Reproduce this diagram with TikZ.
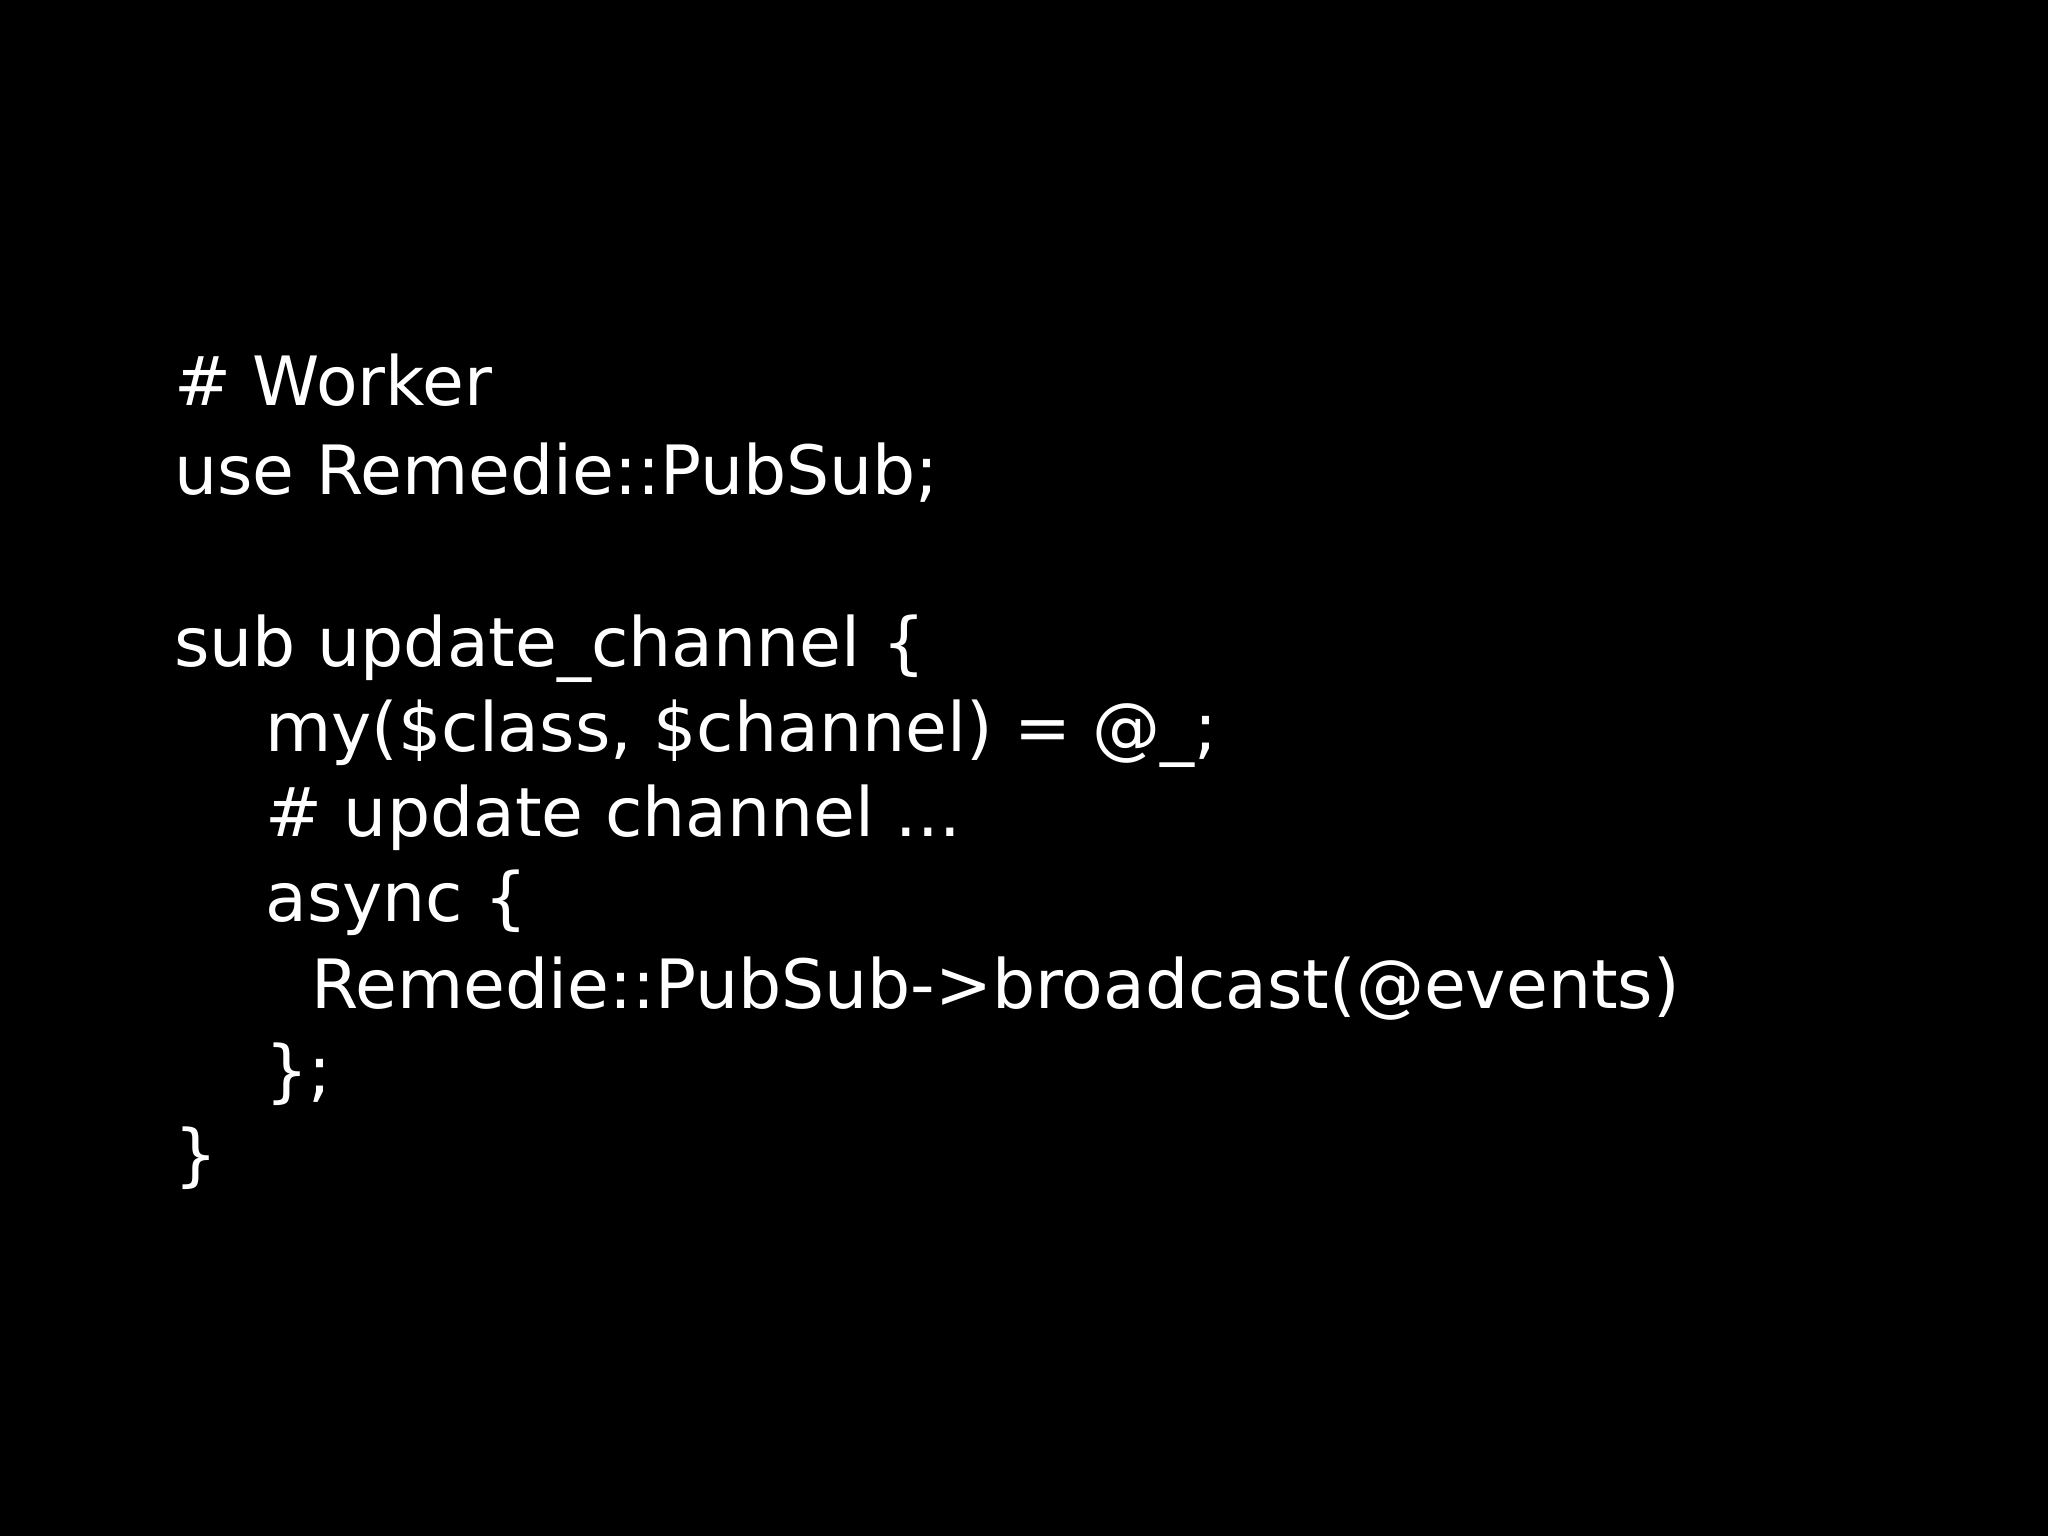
\documentclass[tikz,border=0pt]{standalone}
\usepackage{fontspec}
\setmainfont{DejaVu Sans}
\begin{document}
\begin{tikzpicture}[x=0.5pt,y=-0.5pt,code/.style={anchor=base west,inner sep=0pt,text=white,font=\fontsize{34}{40}\selectfont}]
\fill[black] (0,0) rectangle (2048,1536);
\useasboundingbox (0,0) rectangle (2048,1536);
\node[code] (l1) at (174,405) {\# Worker};
\node[code] (l2) at (174,494) {use Remedie::PubSub;};
\node[code] (l3) at (174,666) {sub update\_channel \{};
\node[code] (l4) at (265,751) {my(\$class, \$channel) = @\_;};
\node[code] (l5) at (265,836) {\# update channel ...};
\node[code] (l6) at (265,921) {async \{};
\node[code] (l7) at (311,1008) {Remedie::PubSub->broadcast(@events)};
\node[code] (l8) at (265,1094) {\};};
\node[code] (l9) at (174,1178) {\}};
\end{tikzpicture}
\end{document}
